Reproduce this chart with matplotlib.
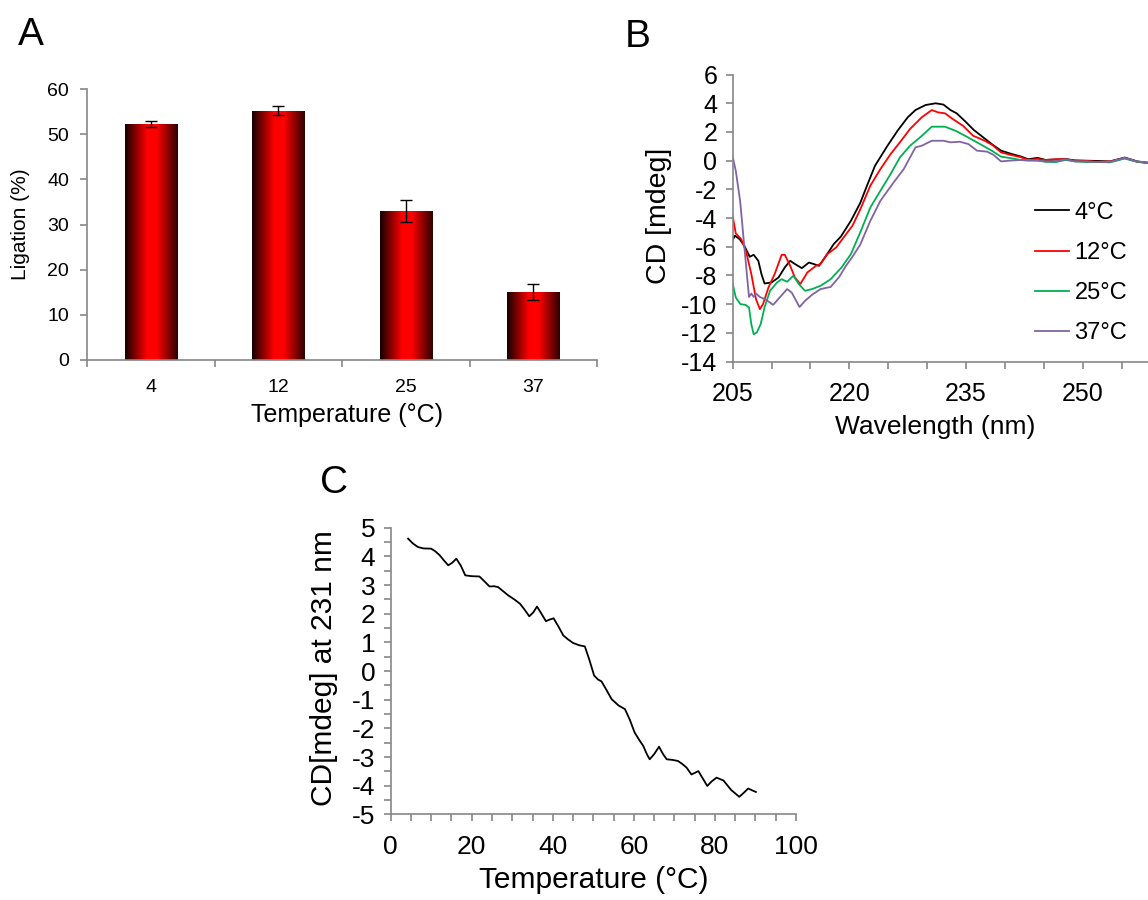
import numpy as np
import matplotlib
matplotlib.use('Agg')
import matplotlib.pyplot as plt
from matplotlib.colors import LinearSegmentedColormap
from matplotlib.ticker import MultipleLocator

plt.rcParams['font.family'] = ['Liberation Sans', 'DejaVu Sans']
plt.rcParams['axes.unicode_minus'] = False

# Panel A: ligation vs temperature
temps_a = ['4', '12', '25', '37']
ligation = [52.3, 55.2, 33.0, 15.1]
ligation_err = [0.7, 1.0, 2.5, 1.8]

# Panel B: CD spectra
wl_ticks = [205, 220, 235, 250]
wl_4 = [205.0, 205.3, 205.9, 206.5, 207.2, 207.7, 208.3, 208.7, 209.1, 210.0, 210.9, 211.7, 212.4, 213.0,
        213.9, 214.8, 215.4, 216.1, 217.0, 218.0, 218.9, 220.2, 221.4, 222.3, 223.3, 224.9, 226.2, 227.5,
        228.5, 229.8, 231.1, 232.1, 233.0, 233.8, 234.9, 236.0, 237.2, 238.3, 239.5, 240.6, 242.0, 243.0,
        244.2, 245.2, 246.5, 247.8, 249.0, 250.5, 252.0, 253.5, 255.4, 257.0, 258.5, 260.0]
cd_4 = [-5.53, -5.23, -5.47, -5.93, -6.70, -6.56, -6.98, -7.90, -8.56, -8.49, -8.14, -7.44, -6.98, -7.20,
        -7.49, -7.10, -7.20, -7.33, -6.63, -5.81, -5.30, -4.19, -2.95, -1.70, -0.35, 1.04, 2.09, 3.02,
        3.53, 3.88, 4.00, 3.91, 3.53, 3.30, 2.74, 2.14, 1.63, 1.16, 0.70, 0.51, 0.30, 0.10,
        0.20, 0.05, 0.08, 0.12, 0.02, 0.00, -0.02, -0.05, 0.22, -0.05, -0.15, -0.10]

wl_12 = [205.0, 205.4, 206.1, 206.7, 207.4, 208.0, 208.5, 208.9, 209.6, 210.4, 211.3, 211.7, 212.4, 213.0,
         213.7, 214.6, 215.7, 216.3, 217.2, 218.3, 219.1, 220.4, 221.4, 222.7, 224.0, 225.3, 226.5, 227.8,
         229.3, 230.6, 231.4, 232.3, 233.3, 234.6, 235.9, 237.4, 238.4, 239.5, 240.6, 242.0, 243.0, 244.2,
         245.2, 246.5, 247.8, 249.0, 250.5, 252.0, 253.5, 255.4, 257.0, 258.5, 260.0]
cd_12 = [-3.84, -5.07, -5.47, -6.28, -7.90, -9.65, -10.35, -10.00, -8.84, -7.90, -6.56, -6.56, -7.33, -8.14,
         -8.60, -7.79, -7.33, -7.20, -6.50, -6.05, -5.47, -4.53, -3.40, -1.74, -0.58, 0.46, 1.28, 2.21,
         3.02, 3.53, 3.37, 3.30, 2.90, 2.44, 1.74, 1.39, 1.09, 0.58, 0.42, 0.25, 0.05, 0.12,
         0.05, 0.10, 0.10, 0.00, -0.02, -0.08, -0.05, 0.18, -0.08, -0.18, -0.12]

wl_25 = [205.0, 205.4, 206.0, 206.65, 207.1, 207.4, 207.7, 208.1, 208.6, 209.1, 209.8, 210.7, 211.3, 212.0,
         212.8, 213.5, 214.3, 215.2, 216.3, 217.6, 219.0, 220.2, 221.4, 222.7, 224.0, 225.3, 226.5, 227.8,
         229.1, 230.6, 232.3, 233.8, 235.1, 236.8, 238.3, 239.5, 240.6, 242.0, 243.0, 244.2, 245.2, 246.5,
         247.8, 249.0, 250.5, 252.0, 253.5, 255.4, 257.0, 258.5, 260.0]
cd_25 = [-8.56, -9.53, -10.00, -10.05, -10.23, -11.40, -12.10, -11.98, -11.40, -10.23, -9.07, -8.49, -8.26, -8.44,
         -8.02, -8.60, -9.07, -8.95, -8.72, -8.26, -7.44, -6.51, -5.00, -3.26, -2.09, -0.93, 0.23, 1.04,
         1.63, 2.37, 2.37, 2.05, 1.67, 1.16, 0.70, 0.28, 0.19, 0.05, 0.00, 0.02, -0.08, -0.10,
         0.05, -0.05, -0.10, -0.08, -0.12, 0.15, -0.08, -0.15, -0.12]

wl_37 = [205.0, 205.4, 205.96, 206.5, 207.1, 207.4, 207.7, 208.0, 208.5, 209.3, 210.2, 211.1, 212.0, 212.6,
         213.6, 214.3, 215.2, 216.3, 217.6, 218.7, 219.6, 220.4, 221.4, 222.7, 224.0, 225.7, 227.0, 228.5,
         229.3, 230.6, 232.1, 233.0, 234.2, 235.3, 236.4, 237.7, 238.5, 239.5, 240.6, 242.0, 243.0, 244.2,
         245.2, 246.5, 247.8, 249.0, 250.5, 252.0, 253.5, 255.4, 257.0, 258.5, 260.0]
cd_37 = [0.28, -0.70, -2.80, -6.00, -9.50, -9.26, -9.50, -9.26, -9.50, -9.70, -10.05, -9.50, -8.95, -9.20,
         -10.20, -9.77, -9.35, -8.95, -8.80, -8.10, -7.30, -6.70, -5.85, -4.19, -2.79, -1.51, -0.58, 0.93,
         1.04, 1.39, 1.39, 1.28, 1.32, 1.16, 0.70, 0.63, 0.42, -0.05, 0.00, 0.05, 0.05, 0.00,
         -0.05, -0.05, 0.10, -0.05, -0.05, -0.10, -0.08, 0.20, -0.05, -0.15, -0.10]

# Panel C: thermal melt at 231 nm
melt_t = [4.3, 5.5, 6.7, 8.0, 10.0, 11.0, 12.1, 13.2, 14.2, 15.2, 16.2, 17.3, 18.4, 20.0, 21.9, 23.2, 24.4,
          25.5, 26.5, 27.8, 29.0, 30.5, 31.9, 33.0, 34.2, 35.2, 36.1, 37.2, 38.3, 39.3, 40.2, 41.4, 42.6,
          43.8, 45.0, 46.5, 47.9, 49.0, 50.2, 51.2, 52.0, 53.2, 54.5, 56.2, 57.8, 59.0, 60.2, 61.3, 62.3,
          63.2, 63.9, 65.0, 66.2, 67.2, 68.1, 69.5, 70.9, 72.0, 73.0, 74.2, 75.1, 75.9, 77.0, 78.1, 79.2,
          80.4, 82.1, 84.0, 86.0, 87.1, 88.2, 90.1]
melt_cd = [4.62, 4.45, 4.33, 4.28, 4.27, 4.18, 4.04, 3.85, 3.69, 3.78, 3.92, 3.68, 3.34, 3.31, 3.30, 3.12, 2.95,
           2.96, 2.93, 2.78, 2.64, 2.50, 2.35, 2.15, 1.91, 2.05, 2.25, 2.00, 1.74, 1.80, 1.84, 1.55, 1.24,
           1.10, 0.98, 0.90, 0.86, 0.40, -0.16, -0.30, -0.36, -0.65, -0.98, -1.20, -1.33, -1.70, -2.15, -2.40, -2.61,
           -2.90, -3.08, -2.90, -2.64, -2.90, -3.08, -3.10, -3.14, -3.25, -3.37, -3.61, -3.55, -3.49, -3.75, -4.01, -3.85,
           -3.72, -3.82, -4.15, -4.39, -4.25, -4.10, -4.22]

grey = '#868686'

fig = plt.figure(figsize=(11.48, 9), dpi=100)


def style_axis(ax):
    for side in ['top', 'right']:
        ax.spines[side].set_visible(False)
    for side in ['left', 'bottom']:
        ax.spines[side].set_color(grey)
        ax.spines[side].set_linewidth(1.2)
    ax.tick_params(which='both', direction='out', color=grey, width=1.2, length=5, labelcolor='black')


# ---- A ----
axA = fig.add_axes([0.0758, 0.6, 0.4443, 0.3011])
style_axis(axA)
xpos = np.arange(len(temps_a))
cmap = LinearSegmentedColormap.from_list('barshade', [(0, '#140000'), (0.42, '#ff0000'), (0.6, '#ff0000'), (1, '#2a0000')])
grad = np.linspace(0, 1, 256).reshape(1, -1)
bars = axA.bar(xpos, ligation, width=0.41, color='none', edgecolor='none', zorder=2)
for b in bars:
    im = axA.imshow(grad, cmap=cmap, aspect='auto', zorder=2,
                    extent=[b.get_x(), b.get_x() + b.get_width(), 0, b.get_height()])
    im.set_clip_path(b)
axA.errorbar(xpos, ligation, yerr=ligation_err, fmt='none', ecolor='black', elinewidth=1,
             capsize=4, capthick=1, zorder=3)
axA.set_xlim(-0.5, len(temps_a) - 0.5)
axA.set_ylim(0, 60)
axA.yaxis.set_major_locator(MultipleLocator(10))
axA.set_xticks(np.arange(-0.5, len(temps_a)), labels=[])
axA.set_xticks(xpos, labels=temps_a, minor=True)
axA.tick_params(axis='x', which='minor', length=0, pad=14)
axA.tick_params(axis='y', pad=8)
axA.tick_params(which='both', labelsize=14)
axA.set_xlabel('Temperature (°C)', fontsize=18)
axA.xaxis.set_label_coords(0.51, -0.16)
axA.set_ylabel('Ligation (%)', fontsize=15)
axA.yaxis.set_label_coords(-0.112, 0.5)

# ---- B ----
axB = fig.add_axes([0.6382, 0.5983, 0.3727, 0.3188])
style_axis(axB)
axB.plot(wl_4, cd_4, color='black', lw=1.3, label='4°C')
axB.plot(wl_12, cd_12, color='#ff0000', lw=1.3, label='12°C')
axB.plot(wl_25, cd_25, color='#00b050', lw=1.3, label='25°C')
axB.plot(wl_37, cd_37, color='#8064a2', lw=1.3, label='37°C')
axB.set_xlim(205, 260)
axB.set_ylim(-14, 6)
axB.set_xticks(wl_ticks)
axB.xaxis.set_minor_locator(MultipleLocator(5))
axB.yaxis.set_major_locator(MultipleLocator(2))
axB.tick_params(labelsize=18)
axB.tick_params(axis='x', pad=10)
axB.tick_params(axis='y', pad=6)
axB.set_xlabel('Wavelength (nm)', fontsize=19)
axB.xaxis.set_label_coords(0.473, -0.186)
axB.set_ylabel('CD [mdeg]', fontsize=20.5)
axB.yaxis.set_label_coords(-0.142, 0.507)
axB.legend(loc='upper left', bbox_to_anchor=(0.9016, 0.776), bbox_transform=fig.transFigure,
           frameon=False, fontsize=17, handlelength=1.45, handletextpad=0.22,
           labelspacing=0.77, borderpad=0, borderaxespad=0)

# ---- C ----
axC = fig.add_axes([0.3403, 0.0952, 0.3531, 0.3184])
style_axis(axC)
axC.plot(melt_t, melt_cd, color='black', lw=1.3)
axC.set_xlim(0, 100)
axC.set_ylim(-5, 5)
axC.xaxis.set_major_locator(MultipleLocator(20))
axC.xaxis.set_minor_locator(MultipleLocator(5))
axC.yaxis.set_major_locator(MultipleLocator(1))
axC.yaxis.set_minor_locator(MultipleLocator(0.5))
axC.tick_params(labelsize=19)
axC.tick_params(axis='x', pad=10)
axC.tick_params(axis='y', pad=6)
axC.set_xlabel('Temperature (°C)', fontsize=21.5)
axC.xaxis.set_label_coords(0.5, -0.18)
axC.set_ylabel('CD[mdeg] at 231 nm', fontsize=21.5)
axC.yaxis.set_label_coords(-0.13, 0.51)

# panel letters
fig.text(0.0157, 0.95, 'A', fontsize=28)
fig.text(0.5444, 0.9478, 'B', fontsize=28)
fig.text(0.2787, 0.4522, 'C', fontsize=28)

fig.savefig('out.png', dpi=100)
